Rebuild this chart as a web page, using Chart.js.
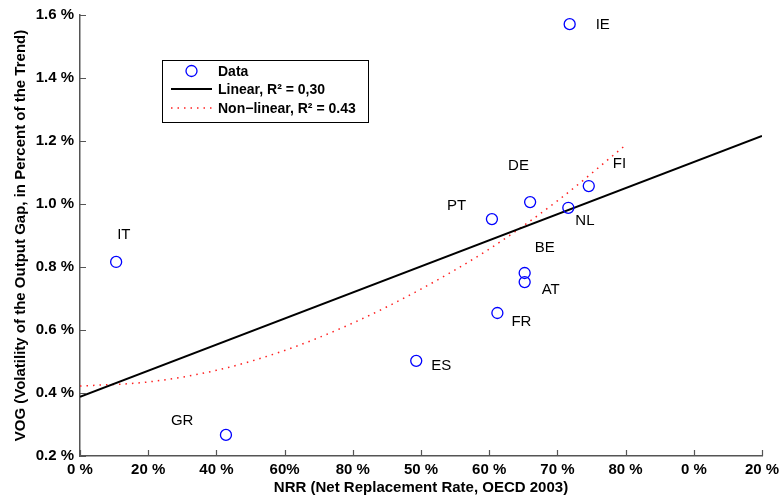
<!DOCTYPE html>
<html>
<head>
<meta charset="utf-8">
<script src="https://cdn.jsdelivr.net/npm/chart.js@4"></script>
<style>
  html, body { margin: 0; padding: 0; background: #fff; }
  #wrap { width: 780px; height: 497px; position: relative; }
</style>
</head>
<body>
<div id="wrap"><canvas id="c"></canvas></div>
<script>
// ---- data ----
const countries = ['IE', 'FI', 'NL', 'DE', 'PT', 'BE', 'AT', 'FR', 'ES', 'IT', 'GR'];
const nrr = [71.8, 74.6, 71.6, 66.0, 60.4, 65.2, 65.2, 61.2, 49.3, 5.3, 21.4];
const vog = [1.571, 1.057, 0.988, 1.006, 0.952, 0.781, 0.752, 0.654, 0.502, 0.816, 0.267];

const linearX = [0, 100];
const linearY = [0.388, 1.216];

const nonlinX = [0, 10, 20, 30, 40, 50, 60, 70, 80];
const nonlinY = [0.422, 0.435, 0.472, 0.535, 0.622, 0.730, 0.857, 1.010, 1.187];

const xTickLabels = ['0 %', '20 %', '40 %', '60%', '80 %', '50 %', '60 %', '70 %', '80 %', '0 %', '20 %'];
const yTickLabels = ['0.2 %', '0.4 %', '0.6 %', '0.8 %', '1.0 %', '1.2 %', '1.4 %', '1.6 %'];

const legendLabels = ['Data', 'Linear, R\u00B2 = 0,30', 'Non\u2212linear, R\u00B2 = 0.43'];
const xTitle = 'NRR (Net Replacement Rate, OECD 2003)';
const yTitle = 'VOG (Volatility of the Output Gap, in Percent of the Trend)';

// ---- plugins ----
const inwardTicks = {
  id: 'inwardTicks',
  afterDatasetsDraw(chart) {
    const ctx = chart.ctx;
    const xs = chart.scales.x, ys = chart.scales.y;
    ctx.save();
    ctx.strokeStyle = '#555';
    ctx.lineWidth = 1.2;
    ctx.beginPath();
    xs.ticks.forEach(t => {
      const px = Math.round(xs.getPixelForValue(t.value)) + 0.5;
      ctx.moveTo(px, ys.bottom);
      ctx.lineTo(px, ys.bottom - 6);
    });
    ys.ticks.forEach(t => {
      const py = Math.round(ys.getPixelForValue(t.value)) + 0.5;
      ctx.moveTo(xs.left, py);
      ctx.lineTo(xs.left + 6, py);
    });
    ctx.stroke();
    ctx.restore();
  }
};

const countryLabels = {
  id: 'countryLabels',
  afterDatasetsDraw(chart, args, opts) {
    const ctx = chart.ctx;
    const meta = chart.getDatasetMeta(0);
    ctx.save();
    ctx.font = '15px "Liberation Sans", Arial, sans-serif';
    ctx.fillStyle = '#000';
    ctx.textBaseline = 'middle';
    ctx.textAlign = 'left';
    meta.data.forEach((pt, i) => {
      const off = opts.offsets[countries[i]] || [10, 0];
      ctx.fillText(countries[i], pt.x + off[0], pt.y + off[1]);
    });
    ctx.restore();
  }
};

const boxLegend = {
  id: 'boxLegend',
  afterDraw(chart, args, opts) {
    const ctx = chart.ctx;
    const x0 = opts.x, y0 = opts.y, w = opts.w, h = opts.h;
    ctx.save();
    ctx.fillStyle = '#fff';
    ctx.fillRect(x0, y0, w, h);
    ctx.strokeStyle = '#000';
    ctx.lineWidth = 1;
    ctx.strokeRect(x0 + 0.5, y0 + 0.5, w, h);
    const ds = chart.data.datasets;
    const rowY = [y0 + 11, y0 + 29, y0 + 48];
    const sx0 = x0 + 9, sx1 = x0 + 50, tx = x0 + 56;
    ctx.font = 'bold 14px "Liberation Sans", Arial, sans-serif';
    ctx.textBaseline = 'middle';
    ctx.fillStyle = '#000';
    // Data
    ctx.strokeStyle = ds[0].pointBorderColor;
    ctx.lineWidth = ds[0].pointBorderWidth;
    ctx.beginPath();
    ctx.arc((sx0 + sx1) / 2, rowY[0], ds[0].pointRadius, 0, Math.PI * 2);
    ctx.stroke();
    // Linear
    ctx.strokeStyle = ds[1].borderColor;
    ctx.lineWidth = ds[1].borderWidth;
    ctx.beginPath();
    ctx.moveTo(sx0, rowY[1]); ctx.lineTo(sx1, rowY[1]);
    ctx.stroke();
    // Non-linear
    ctx.strokeStyle = ds[2].borderColor;
    ctx.lineWidth = ds[2].borderWidth;
    ctx.setLineDash(ds[2].borderDash);
    ctx.beginPath();
    ctx.moveTo(sx0, rowY[2]); ctx.lineTo(sx1, rowY[2]);
    ctx.stroke();
    ctx.setLineDash([]);
    legendLabels.forEach((l, i) => ctx.fillText(l, tx, rowY[i] + 1));
    ctx.restore();
  }
};

const scatterData = nrr.map((x, i) => ({ x: x, y: vog[i] }));
const linearData = linearX.map((x, i) => ({ x: x, y: linearY[i] }));
const nonlinData = nonlinX.map((x, i) => ({ x: x, y: nonlinY[i] }));

const tickFont = { family: '"Liberation Sans", Arial, sans-serif', size: 15, weight: 'bold' };

new Chart(document.getElementById('c'), {
  type: 'scatter',
  data: {
    datasets: [
      {
        label: legendLabels[0],
        data: scatterData,
        showLine: false,
        pointRadius: 5.5,
        pointHoverRadius: 5.5,
        pointBorderColor: '#0000ff',
        pointBackgroundColor: 'rgba(0,0,0,0)',
        pointBorderWidth: 1.3,
        order: 0
      },
      {
        label: legendLabels[1],
        data: linearData,
        showLine: true,
        borderColor: '#000',
        borderWidth: 2,
        pointRadius: 0,
        order: 1
      },
      {
        label: legendLabels[2],
        data: nonlinData,
        showLine: true,
        borderColor: '#ff2020',
        borderWidth: 1.5,
        borderDash: [1.5, 5],
        cubicInterpolationMode: 'monotone',
        pointRadius: 0,
        order: 2
      }
    ]
  },
  options: {
    responsive: true,
    maintainAspectRatio: false,
    animation: false,
    events: [],
    layout: { padding: { top: 15, right: 18, left: 0, bottom: 0 } },
    plugins: {
      legend: { display: false },
      tooltip: { enabled: false },
      countryLabels: {
        offsets: {
          IE: [26, 1], FI: [24, -22], NL: [7, 13], DE: [-22, -36], PT: [-45, -13],
          BE: [10, -25], AT: [17, 8], FR: [14, 9], ES: [15, 5], IT: [1, -27], GR: [-55, -14]
        }
      },
      boxLegend: { x: 162, y: 60, w: 206, h: 62 }
    },
    scales: {
      x: {
        type: 'linear',
        min: 0, max: 100,
        afterFit(s) { s.height = 41; s.paddingLeft = 0; s.paddingRight = 0; },
        afterBuildTicks(s) {
          s.ticks = xTickLabels.map((_, i) => ({ value: i * 10 }));
        },
        grid: { display: true, drawOnChartArea: false, drawTicks: false },
        border: { display: true, color: '#555', width: 1.5 },
        ticks: {
          padding: 5,
          color: '#000',
          font: tickFont,
          maxRotation: 0,
          autoSkip: false,
          callback: (v, i) => xTickLabels[i]
        },
        title: {
          display: true,
          text: xTitle,
          color: '#000',
          font: tickFont,
          padding: { top: 0, bottom: 0 }
        }
      },
      y: {
        type: 'linear',
        min: 0.2, max: 1.6,
        afterFit(s) { s.width = 80; s.paddingTop = 0; s.paddingBottom = 0; },
        afterBuildTicks(s) {
          s.ticks = yTickLabels.map((_, i) => ({ value: 0.2 + i * 0.2 }));
        },
        grid: { display: true, drawOnChartArea: false, drawTicks: false },
        border: { display: true, color: '#555', width: 1.5 },
        ticks: {
          padding: 6,
          color: '#000',
          font: tickFont,
          autoSkip: false,
          callback: (v, i) => yTickLabels[i]
        },
        title: {
          display: true,
          text: yTitle,
          color: '#000',
          font: tickFont,
          padding: { top: 12, bottom: 0 }
        }
      }
    }
  },
  plugins: [inwardTicks, countryLabels, boxLegend]
});
</script>
</body>
</html>
